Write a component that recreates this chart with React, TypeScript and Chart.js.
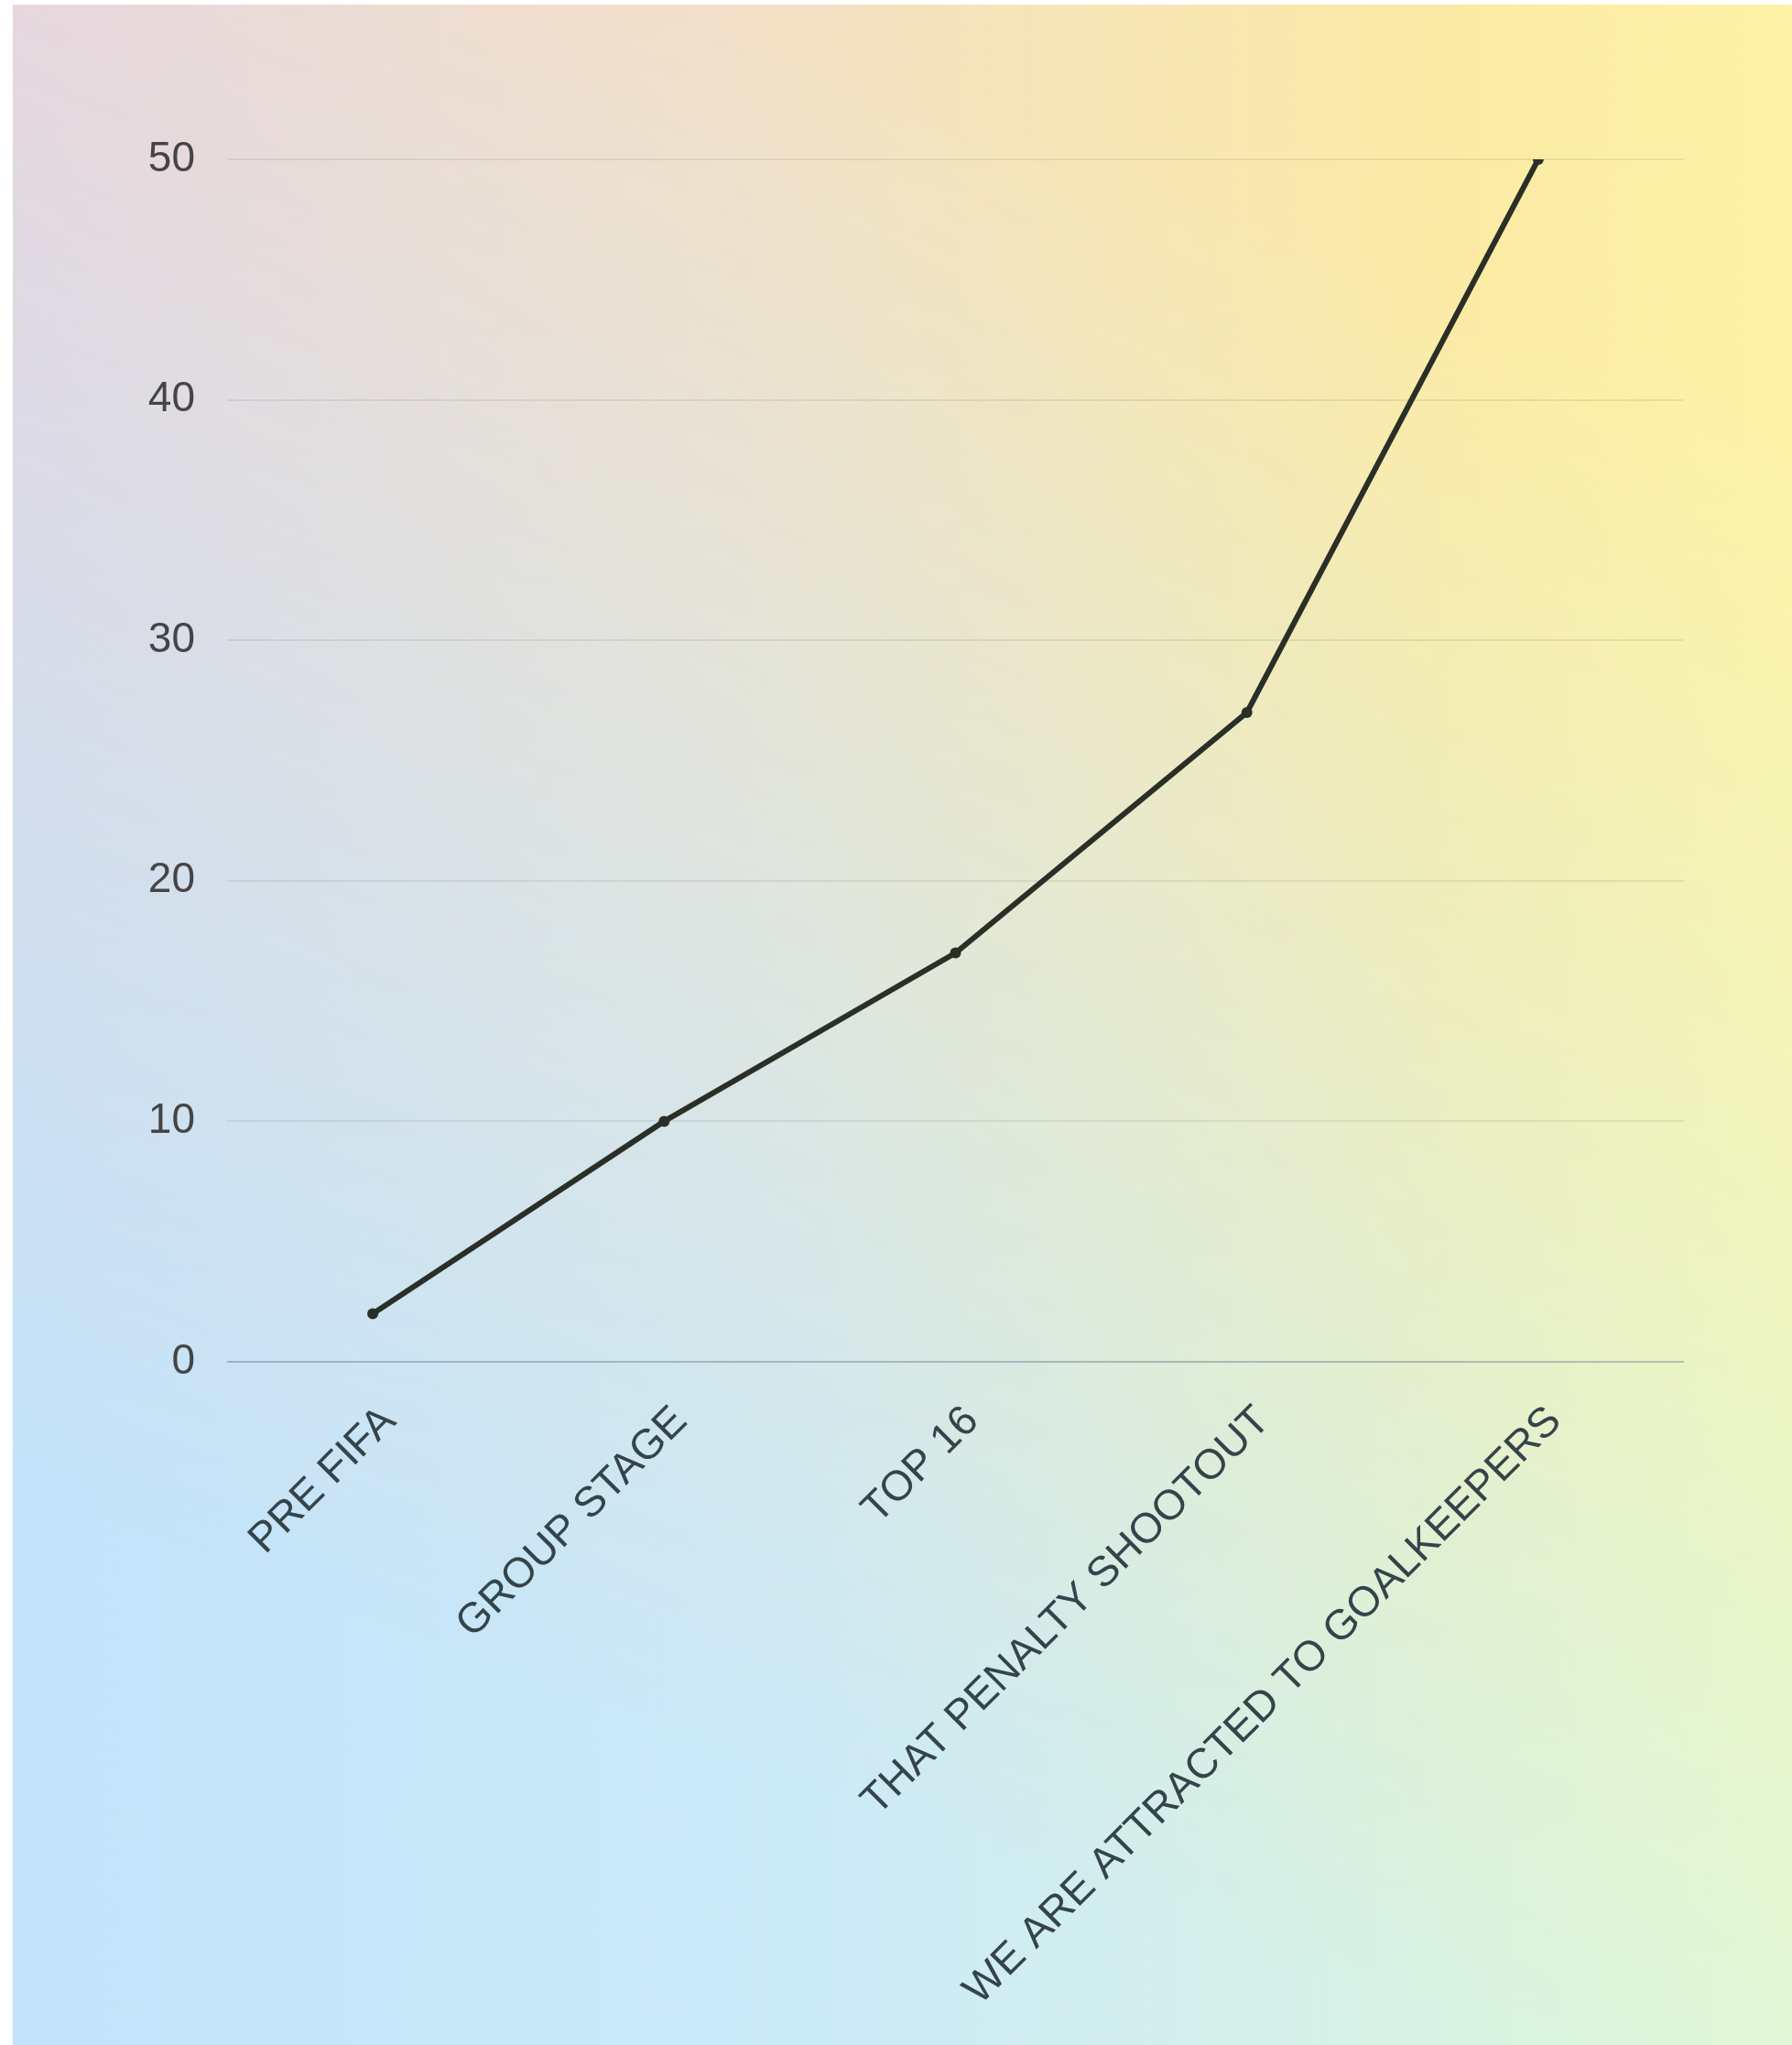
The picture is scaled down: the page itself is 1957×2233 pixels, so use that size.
import React, { useEffect, useRef } from 'react';
import { Chart, registerables } from 'chart.js';

Chart.register(...registerables);

const categories = [
  'PRE FIFA',
  'GROUP STAGE',
  'TOP 16',
  'THAT PENALTY SHOOTOUT',
  'WE ARE ATTRACTED TO GOALKEEPERS',
];
const values = [2, 10, 17, 27, 50];
const yTickValues = [0, 10, 20, 30, 40, 50];

const W = 1943;
const H = 2228;
const FONT = "'Liberation Sans', Arial, sans-serif";

export default function App() {
  const ref = useRef<HTMLCanvasElement>(null);

  useEffect(() => {
    document.body.style.margin = '0';
    const chart = new Chart(ref.current as HTMLCanvasElement, {
      type: 'line',
      data: {
        labels: categories,
        datasets: [
          {
            data: values,
            borderColor: '#2a2f27',
            backgroundColor: '#2a2f27',
            borderWidth: 6,
            pointRadius: 6,
            pointHoverRadius: 6,
            pointBorderWidth: 0,
            tension: 0,
            fill: false,
          },
        ],
      },
      options: {
        responsive: false,
        animation: false,
        devicePixelRatio: 1,
        layout: { padding: { top: 169, right: 118, left: 0, bottom: 0 } },
        plugins: { legend: { display: false }, tooltip: { enabled: false } },
        scales: {
          x: {
            offset: true,
            grid: { display: false },
            border: { display: false },
            ticks: {
              minRotation: 45,
              maxRotation: 45,
              autoSkip: false,
              color: '#34444a',
              font: { family: FONT, size: 46 },
              padding: 30,
              labelOffset: 18,
            },
            afterFit: (s: any) => {
              s.height = H - 1482;
            },
          },
          y: {
            min: 0,
            max: 50,
            afterBuildTicks: (s: any) => {
              s.ticks = yTickValues.map((v) => ({ value: v }));
            },
            grid: {
              drawTicks: false,
              lineWidth: 2,
              color: (ctx: any) =>
                ctx.tick && ctx.tick.value === 0 ? 'rgba(70,95,115,0.35)' : 'rgba(0,0,0,0.07)',
            },
            border: { display: false },
            ticks: {
              padding: 35,
              color: '#454545',
              font: { family: FONT, size: 46 },
            },
            afterFit: (s: any) => {
              s.width = 234;
            },
          },
        },
      },
    });
    return () => chart.destroy();
  }, []);

  return (
    <div style={{ position: 'absolute', left: 14, top: 5, width: W, height: H, overflow: 'hidden' }}>
      <div
        style={{
          position: 'absolute',
          inset: 0,
          background: 'linear-gradient(to right, #c2e3fb 0%, #cbeaf8 45%, #e0f8d9 100%)',
        }}
      />
      <div
        style={{
          position: 'absolute',
          inset: 0,
          background:
            'linear-gradient(to right, #ecd5d9 0%, #f2e0c8 40%, #fbeaa5 80%, #fdf2a6 100%)',
          WebkitMaskImage: 'linear-gradient(200deg, black 15%, transparent 80%)',
          maskImage: 'linear-gradient(200deg, black 15%, transparent 80%)',
        }}
      />
      <canvas ref={ref} width={W} height={H} style={{ position: 'absolute', left: 0, top: 0 }} />
    </div>
  );
}
